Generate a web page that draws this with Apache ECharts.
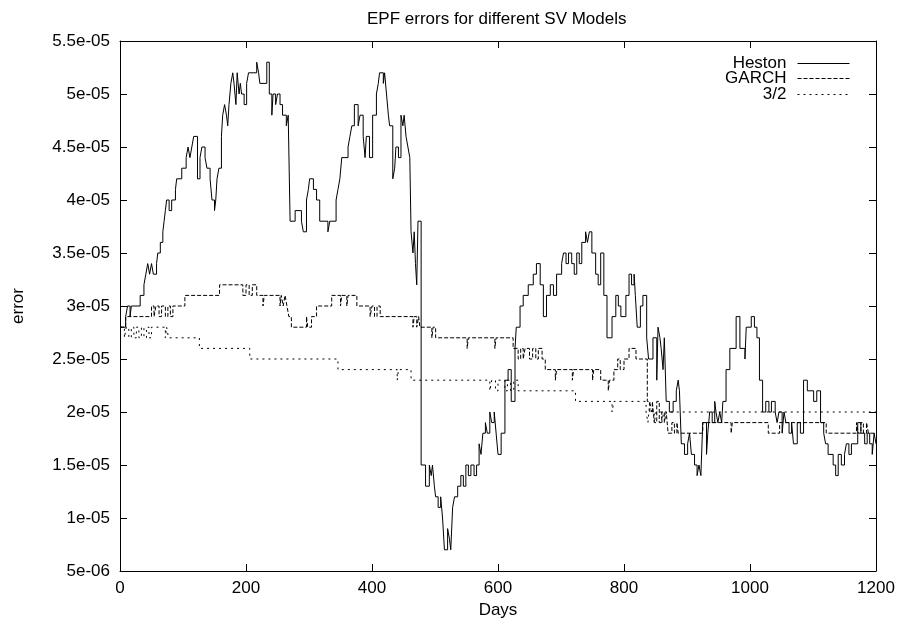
<!DOCTYPE html>
<html>
<head>
<meta charset="utf-8">
<script src="https://cdn.jsdelivr.net/npm/echarts@6/dist/echarts.min.js"></script>
<style>
html,body{margin:0;padding:0;background:#fff;}
#chart{width:901px;height:629px;}
</style>
</head>
<body>
<div id="chart"></div>
<script>
// Error values are given in units of 1e-6
const xTicks = [0, 200, 400, 600, 800, 1000, 1200];
const xTickLabels = ['0', '200', '400', '600', '800', '1000', '1200'];
const yTickLabels = ['5e-06','1e-05','1.5e-05','2e-05','2.5e-05','3e-05','3.5e-05','4e-05','4.5e-05','5e-05','5.5e-05'];

const hestonDays = [0,9,12,16,18,32,38,41,44,47,50,53,58,60,64,68,70,72,74,78,82,88,90,98,105,108,111,114,117,123,127,130,135,138,143,146,150,152,154,157,161,163,166,169,171,173,176,179,181,184,186,189,191,193,197,201,204,217,220,222,233,237,241,243,247,250,254,258,264,267,
270,278,288,291,296,299,301,307,312,317,330,333,343,346,349,352,362,365,368,372,378,381,386,389,391,396,401,407,410,412,418,420,423,426,428,433,436,438,442,446,449,451,454,457,460,462,465,467,469,471,473,
478,485,491,494,496,499,501,505,509,512,515,520,523,525,528,531,536,541,545,549,553,557,562,566,570,573,576,580,583,587,590,594,597,600,605,611,616,621,627,629,635,640,648,656,661,667,672,677,683,688,693,701,704,708,712,717,721,725,729,733,739,742,745,749,755,759,763,768,773,781,787,791,795,803,808,812,816,818,
821,826,830,836,839,846,852,854,857,859,862,864,867,872,878,883,886,888,891,896,901,904,907,912,916,919,922,925,931,933,936,940,944,946,949,952,955,957,962,968,978,984,992,994,1002,1007,1011,1015,1020,1025,1030,1034,1040,1043,1046,1051,1054,1057,1062,1066,1069,1075,1080,1085,1091,1101,1106,1112,1117,1120,1124,1132,1136,1140,1145,1150,1153,1157,1161,1171,1176,1182,1186,1190,1194,1197,1200];
const hestonErr = [28,29,30,29,30,31,32,33,34,33,34,33,34,35,36,37,38,39,40,39,40,41,42,43,44,45,44,45,46,42,44,45,44,43,42,40,39,40,42,43,46,48,49,48,47,49,51,52,51,49,52,50,51,50,49,51,52,53,52,51,53,50,48,50,49,50,49,48,47,48,
38,39,38,37,40,41,42,41,40,38,37,38,40,41,42,44,45,46,47,49,47,48,46,44,46,44,48,50,51,52,51,52,50,48,47,42,43,45,44,48,47,48,46,45,44,37,35,37,34,32,38,
15,13,15,14,15,13,12,11,12,10,7,9,8,7,11,12,13,14,13,15,14,15,14,15,17,16,18,19,18,20,19,20,18,16,18,23,24,21,26,28,30,31,32,33,34,32,29,31,32,31,33,34,35,34,35,34,33,35,34,36,37,36,37,35,33,32,35,31,27,29,31,30,29,31,33,32,33,31,
28,30,31,27,25,27,23,28,27,26,24,27,21,20,21,22,23,22,17,16,17,18,16,15,14,15,14,19,16,18,20,19,21,20,19,20,19,21,24,26,29,26,25,28,29,28,27,23,20,21,20,21,20,19,20,18,20,19,18,19,17,19,18,23,22,21,22,19,18,17,16,15,14,16,15,16,17,16,17,19,18,17,18,17,16,18,17];

const garchDays = [0,9,50,54,57,62,66,72,76,80,84,103,158,195,200,205,210,217,227,229,254,256,259,262,265,268,272,296,298,304,312,336,350,352,360,362,376,397,400,404,408,413,465,467,471,474,476,495,497,501,551,553,595,597,624,632,636,640,643,650,655,660,664,670,675,691,693,718,720,750,752,763,775,777,784,790,794,800,808,819,837,841,845,848,852,856,860,864,867,870,876,880,884,886,925,970,972,1029,1047,1121,1169,1172,1176,1180,1185,1188,1200];
const garchErr = [28,29,30,29,30,29,30,29,30,29,30,31,32,31,32,31,32,31,30,31,30,31,30,31,30,29,28,29,28,29,30,31,30,31,30,31,30,29,30,29,30,29,28,29,28,29,28,27,28,27,26,27,26,27,26,25,26,25,26,25,26,25,26,25,24,23,24,23,24,23,24,23,22,23,24,25,24,25,26,25,21,20,21,19,21,19,20,19,20,18,19,18,19,18,19,18,19,18,19,18,19,18,19,18,19,18,18];

const threeHalfDays = [0,7,10,14,18,22,26,30,34,38,42,46,50,72,74,77,126,206,346,440,442,462,587,590,596,600,611,615,620,625,632,723,781,784,835,838,841,844,848,851,860,863,1200];
const threeHalfErr = [28,27,28,27,28,27,28,27,28,27,28,27,28,27,28,27,26,25,24,23,24,23,22,23,22,23,22,23,22,23,22,21,20,21,20,19,21,20,19,20,19,20,20];

const seriesNames = ['Heston', 'GARCH', '3/2'];
const seriesDash = ['solid', [4, 2], [2, 4]];

function zip(days, vals) { return days.map((d, i) => [d, vals[i]]); }

const chart = echarts.init(document.getElementById('chart'), null, {renderer: 'canvas'});
const FONT = 'Liberation Sans, Arial, Helvetica, sans-serif';
const FS = 17;

function axisCommon() {
  return {
    axisLine: {show: true, onZero: false, lineStyle: {color: '#000', width: 1}},
    axisTick: {show: true, inside: true, length: 7, lineStyle: {color: '#000', width: 1}},
    splitLine: {show: false},
  };
}

const legendTops = [50, 65, 81];

chart.setOption({
  animation: false,
  backgroundColor: '#fff',
  title: {
    text: 'EPF errors for different SV Models',
    left: 362, top: 6,
    textStyle: {fontFamily: FONT, fontSize: FS, fontWeight: 'normal', color: '#000'}
  },
  legend: seriesNames.map((n, i) => ({
    data: [n],
    orient: 'vertical',
    right: 46,
    top: legendTops[i],
    align: 'right',
    itemWidth: 52,
    itemHeight: 12,
    itemStyle: {opacity: 0},
    lineStyle: {width: 1, color: '#000', type: seriesDash[i]},
    textStyle: {fontFamily: FONT, fontSize: FS, color: '#000', padding: [0, 6, 0, 0]},
    selectedMode: false
  })),
  grid: {left: 120, right: 25, top: 41, bottom: 58, containLabel: false},
  xAxis: [
    Object.assign(axisCommon(), {
      type: 'value', min: xTicks[0], max: xTicks[xTicks.length - 1], interval: 200,
      position: 'bottom',
      name: 'Days', nameLocation: 'middle', nameGap: 26,
      nameTextStyle: {fontFamily: FONT, fontSize: FS, color: '#000'},
      axisLabel: {fontFamily: FONT, fontSize: FS, color: '#000', margin: 9,
        formatter: v => xTickLabels[xTicks.indexOf(v)]}
    }),
    Object.assign(axisCommon(), {
      type: 'value', min: xTicks[0], max: xTicks[xTicks.length - 1], interval: 200,
      position: 'top', axisLabel: {show: false}
    })
  ],
  yAxis: [
    Object.assign(axisCommon(), {
      type: 'value', min: 5, max: 55, interval: 5,
      position: 'left',
      name: 'error', nameLocation: 'middle', nameGap: 93, nameRotate: 90,
      nameTextStyle: {fontFamily: FONT, fontSize: FS, color: '#000'},
      axisLabel: {fontFamily: FONT, fontSize: FS, color: '#000', margin: 10,
        formatter: v => yTickLabels[Math.round((v - 5) / 5)]}
    }),
    Object.assign(axisCommon(), {
      type: 'value', min: 5, max: 55, interval: 5,
      position: 'right', axisLabel: {show: false}
    })
  ],
  series: [
    {name: seriesNames[0], type: 'line', step: 'end', symbol: 'none', data: zip(hestonDays, hestonErr),
     lineStyle: {color: '#000', width: 1, type: seriesDash[0]}, itemStyle: {color: '#000'}, z: 3},
    {name: seriesNames[1], type: 'line', step: 'end', symbol: 'none', data: zip(garchDays, garchErr),
     lineStyle: {color: '#000', width: 1, type: seriesDash[1]}, itemStyle: {color: '#000'}, z: 2},
    {name: seriesNames[2], type: 'line', step: 'end', symbol: 'none', data: zip(threeHalfDays, threeHalfErr),
     lineStyle: {color: '#000', width: 1, type: seriesDash[2]}, itemStyle: {color: '#000'}, z: 1}
  ]
});
</script>
</body>
</html>
